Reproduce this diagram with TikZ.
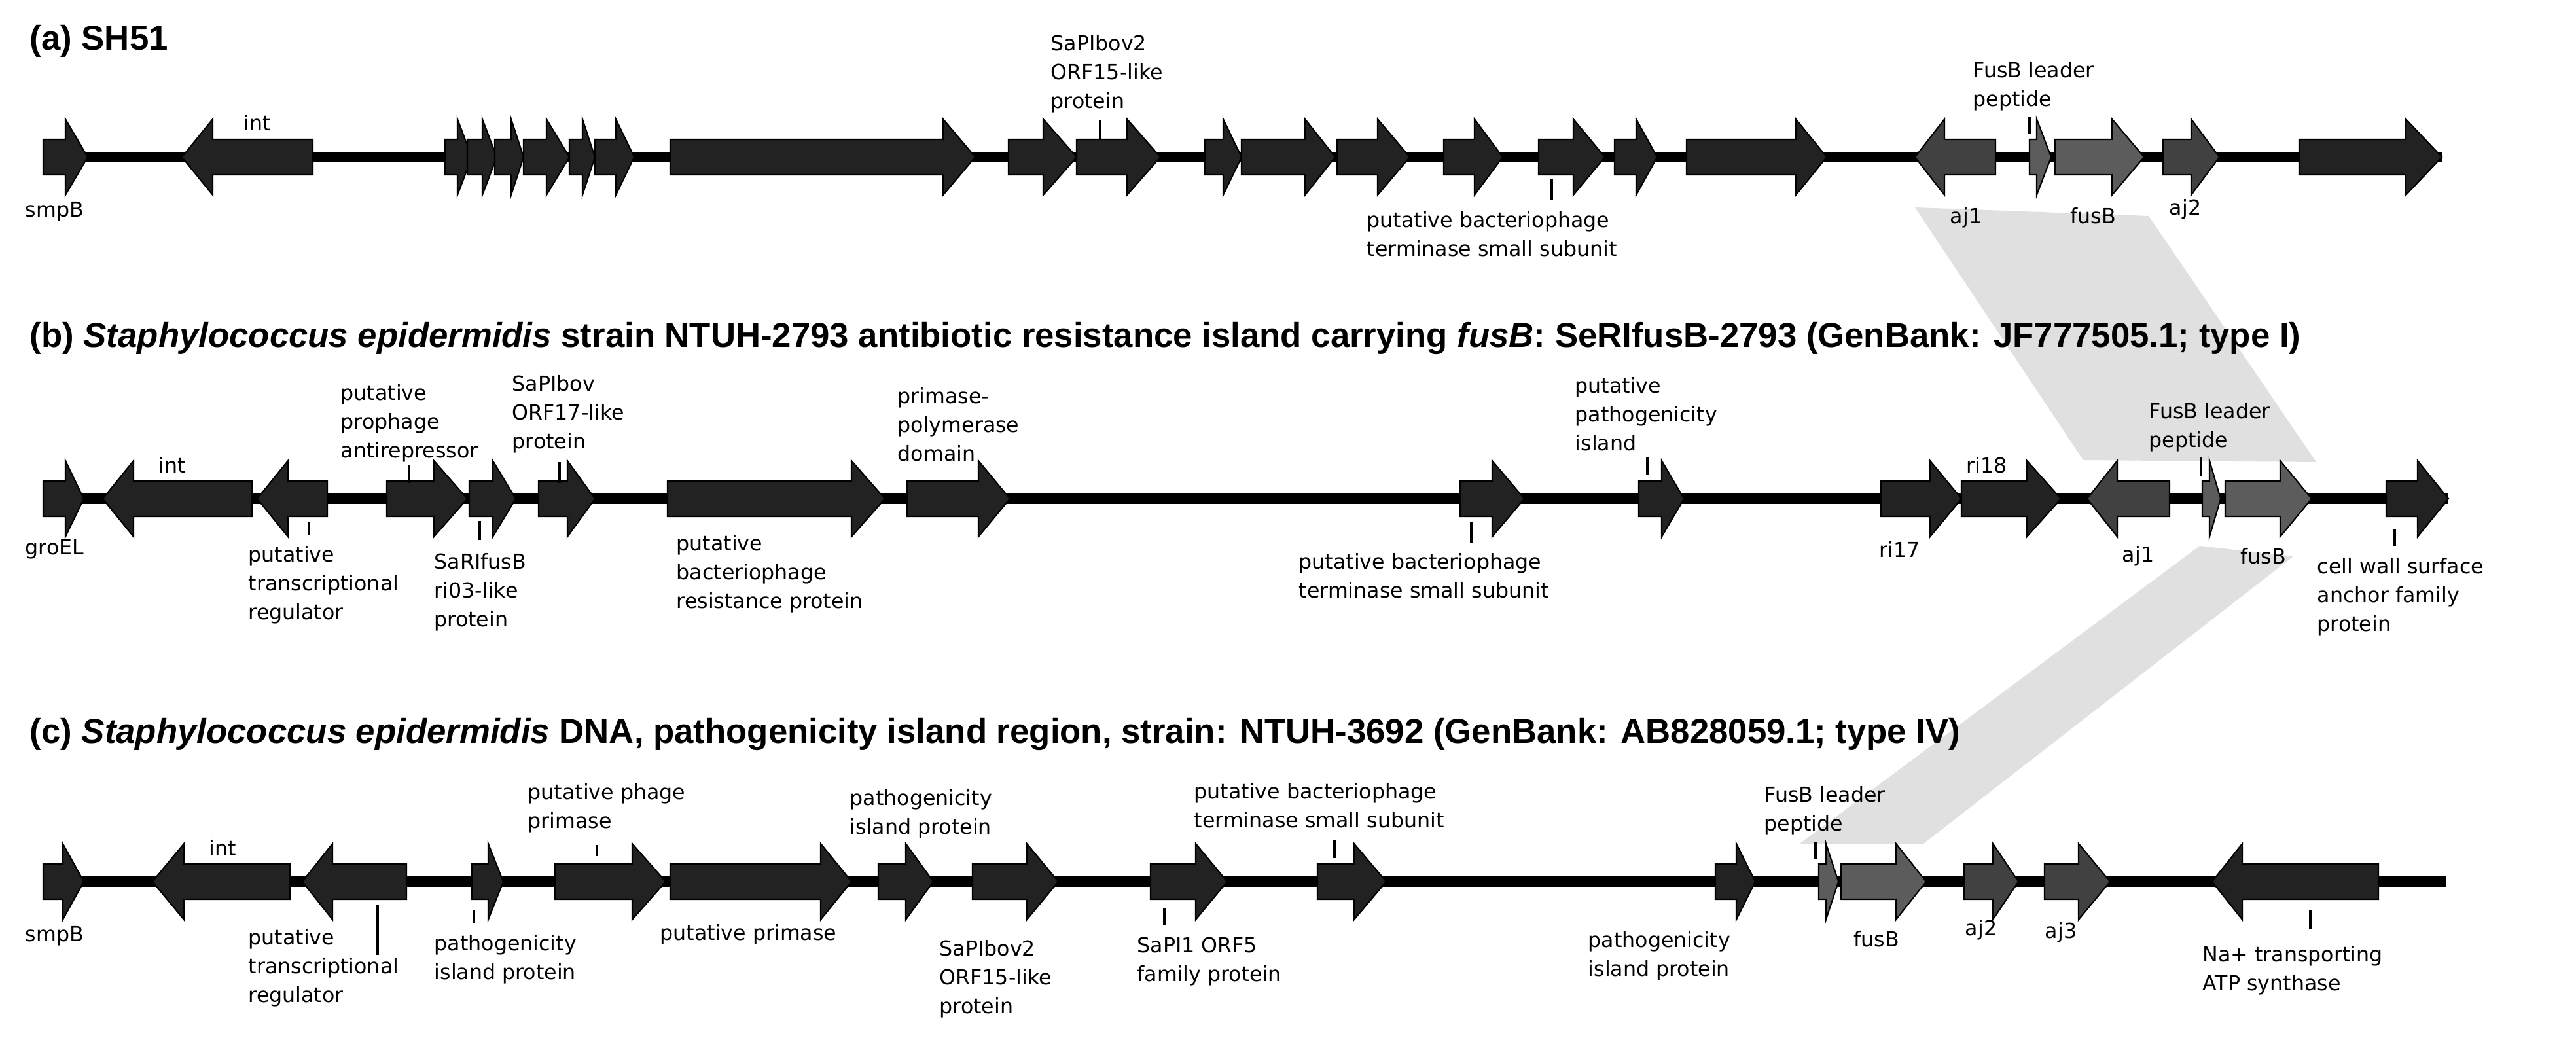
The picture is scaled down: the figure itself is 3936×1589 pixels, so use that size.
\documentclass[tikz,border=0pt]{standalone}
\usepackage{fontspec}
\setmainfont{Liberation Sans}
\newfontfamily\lblfont{DejaVu Sans}
\definecolor{gd}{HTML}{222222}
\definecolor{gm}{HTML}{414141}
\definecolor{gf}{HTML}{5C5C5C}
\definecolor{band}{HTML}{E0E0E0}
\tikzset{
  lbl/.style={font=\lblfont\fontsize{9}{12.5}\selectfont, inner sep=0pt, align=left},
  ttl/.style={font=\fontsize{15}{18}\selectfont\bfseries, anchor=west, inner sep=0pt},
  backbone/.style={line width=4.6pt, black},
  tick/.style={line width=1pt, black},
  gene/.style={draw=black, line width=0.6pt, line join=miter}
}
\newcommand{\geneR}[5]{\fill[gene, fill=#5] (#1,#4-27) -- (#2,#4-27) -- (#2,#4-58) -- (#3,#4) -- (#2,#4+58) -- (#2,#4+27) -- (#1,#4+27) -- cycle;}
\newcommand{\geneL}[5]{\fill[gene, fill=#5] (#1,#4) -- (#2,#4-58) -- (#2,#4-27) -- (#3,#4-27) -- (#3,#4+27) -- (#2,#4+27) -- (#2,#4+58) -- cycle;}
\begin{document}
\begin{tikzpicture}[x=0.01cm, y=-0.01cm]
\useasboundingbox (0,0) rectangle (3936,1589);
% bands
\fill[band] (2926,317) -- (3283,330) -- (3539,706) -- (3183,703) -- cycle;
\fill[band] (3361,834) -- (3504,850) -- (2939,1289) -- (2750,1289) -- cycle;
% titles
\node[ttl] (ta) at (45,63) {(a) SH51};
\node[ttl] (tb) at (45,517) {(b) \textit{Staphylococcus epidermidis} strain NTUH-2793 antibiotic resistance island carrying \textit{fusB}: SeRIfusB-2793 (GenBank: JF777505.1; type I)};
\node[ttl] (tc) at (45,1122) {(c) \textit{Staphylococcus epidermidis} DNA, pathogenicity island region, strain: NTUH-3692 (GenBank: AB828059.1; type IV)};
% ===== row a =====
\draw[backbone] (66,240) -- (3731,240);
\geneR{66}{100}{134}{240}{gd}
\geneL{278}{325}{478}{240}{gd}
\geneR{680}{699}{721}{240}{gd}
\geneR{714}{737}{759}{240}{gd}
\geneR{756}{781}{800}{240}{gd}
\geneR{800}{835}{870}{240}{gd}
\geneR{870}{890}{909}{240}{gd}
\geneR{909}{941}{969}{240}{gd}
\geneR{1024}{1441}{1490}{240}{gd}
\geneR{1541}{1594}{1645}{240}{gd}
\geneR{1645}{1722}{1773}{240}{gd}
\geneR{1841}{1869}{1897}{240}{gd}
\geneR{1897}{1994}{2040}{240}{gd}
\geneR{2043}{2105}{2154}{240}{gd}
\geneR{2206}{2253}{2296}{240}{gd}
\geneR{2351}{2404}{2452}{240}{gd}
\geneR{2467}{2500}{2532}{240}{gd}
\geneR{2577}{2744}{2791}{240}{gd}
\geneL{2926}{2971}{3049}{240}{gm}
\geneR{3101}{3112}{3134}{240}{gf}
\geneR{3140}{3227}{3276}{240}{gf}
\geneR{3305}{3348}{3391}{240}{gm}
\geneR{3513}{3676}{3731}{240}{gd}
\node[lbl, anchor=west] (a1) at (38,323) {smpB};
\node[lbl, anchor=west] (a2) at (372,187) {int};
\node[lbl, anchor=north west] (a3) at (1605,53) {SaPIbov2\\ORF15-like\\protein};
\draw[tick] (1681,183) -- (1681,212);
\node[lbl, anchor=north west] (a4) at (2088,323) {putative bacteriophage\\terminase small subunit};
\draw[tick] (2371,273) -- (2371,305);
\node[lbl, anchor=north west] (a5) at (3014,94) {FusB leader\\peptide};
\draw[tick] (3101,178) -- (3101,205);
\node[lbl] (a6) at (3004,333) {aj1};
\node[lbl] (a7) at (3198,330) {fusB};
\node[lbl] (a8) at (3339,320) {aj2};
% ===== row b =====
\draw[backbone] (66,762) -- (3741,762);
\geneR{66}{100}{128}{762}{gd}
\geneL{157}{204}{385}{762}{gd}
\geneL{393}{440}{500}{762}{gd}
\geneR{591}{663}{714}{762}{gd}
\geneR{717}{753}{788}{762}{gd}
\geneR{823}{867}{909}{762}{gd}
\geneR{1020}{1301}{1352}{762}{gd}
\geneR{1386}{1495}{1543}{762}{gd}
\geneR{2231}{2280}{2329}{762}{gd}
\geneR{2504}{2539}{2573}{762}{gd}
\geneR{2874}{2949}{2997}{762}{gd}
\geneR{2997}{3097}{3149}{762}{gd}
\geneL{3189}{3235}{3315}{762}{gm}
\geneR{3365}{3376}{3393}{762}{gf}
\geneR{3400}{3484}{3532}{762}{gf}
\geneR{3646}{3694}{3741}{762}{gd}
\node[lbl, anchor=west] (b1) at (38,839) {groEL};
\node[lbl, anchor=west] (b2) at (242,710) {int};
\node[lbl, anchor=north west] (b3) at (379,834) {putative\\transcriptional\\regulator};
\draw[tick] (472,797) -- (472,818);
\node[lbl, anchor=north west] (b4) at (520,587) {putative\\prophage\\antirepressor};
\draw[tick] (625,710) -- (625,738);
\node[lbl, anchor=north west] (b5) at (663,845) {SaRIfusB\\ri03-like\\protein};
\draw[tick] (733,796) -- (733,825);
\node[lbl, anchor=north west] (b6) at (782,573) {SaPIbov\\ORF17-like\\protein};
\draw[tick] (855,706) -- (855,738);
\node[lbl, anchor=north west] (b7) at (1371,592) {primase-\\polymerase\\domain};
\node[lbl, anchor=north west] (b8) at (1033,817) {putative\\bacteriophage\\resistance protein};
\node[lbl, anchor=north west] (b9) at (1984,845) {putative bacteriophage\\terminase small subunit};
\draw[tick] (2248,797) -- (2248,829);
\node[lbl, anchor=north west] (b10) at (2406,576) {putative\\pathogenicity\\island};
\draw[tick] (2517,699) -- (2517,725);
\node[lbl, anchor=west] (b11) at (2871,839) {ri17};
\node[lbl, anchor=west] (b12) at (3004,711) {ri18};
\node[lbl, anchor=north west] (b13) at (3283,615) {FusB leader\\peptide};
\draw[tick] (3363,699) -- (3363,727);
\node[lbl] (b14) at (3267,850) {aj1};
\node[lbl] (b15) at (3458,850) {fusB};
\node[lbl, anchor=north west] (b16) at (3540,852) {cell wall surface\\anchor family\\protein};
\draw[tick] (3659,808) -- (3659,834);
% ===== row c =====
\draw[backbone] (66,1347) -- (3737,1347);
\geneR{66}{96}{128}{1347}{gd}
\geneL{233}{281}{443}{1347}{gd}
\geneL{462}{508}{621}{1347}{gd}
\geneR{721}{746}{769}{1347}{gd}
\geneR{848}{966}{1017}{1347}{gd}
\geneR{1024}{1254}{1301}{1347}{gd}
\geneR{1342}{1384}{1426}{1347}{gd}
\geneR{1486}{1569}{1617}{1347}{gd}
\geneR{1758}{1827}{1875}{1347}{gd}
\geneR{2013}{2069}{2118}{1347}{gd}
\geneR{2621}{2653}{2682}{1347}{gd}
\geneR{2779}{2790}{2809}{1347}{gf}
\geneR{2813}{2897}{2943}{1347}{gf}
\geneR{3001}{3045}{3084}{1347}{gm}
\geneR{3124}{3176}{3224}{1347}{gm}
\geneL{3380}{3426}{3634}{1347}{gd}
\node[lbl, anchor=west] (c1) at (38,1430) {smpB};
\node[lbl, anchor=west] (c2) at (319,1295) {int};
\node[lbl, anchor=north west] (c3) at (379,1419) {putative\\transcriptional\\regulator};
\draw[tick] (577,1383) -- (577,1459);
\node[lbl, anchor=north west] (c4) at (663,1428) {pathogenicity\\island protein};
\draw[tick] (724,1390) -- (724,1411);
\node[lbl, anchor=north west] (c5) at (806,1197) {putative phage\\primase};
\draw[tick] (912,1291) -- (912,1308);
\node[lbl, anchor=west] (c6) at (1008,1428) {putative primase};
\node[lbl, anchor=north west] (c7) at (1298,1206) {pathogenicity\\island protein};
\node[lbl, anchor=north west] (c8) at (1435,1436) {SaPIbov2\\ORF15-like\\protein};
\node[lbl, anchor=north west] (c9) at (1737,1431) {SaPI1 ORF5\\family protein};
\draw[tick] (1779,1387) -- (1779,1414);
\node[lbl, anchor=north west] (c10) at (1824,1196) {putative bacteriophage\\terminase small subunit};
\draw[tick] (2039,1284) -- (2039,1311);
\node[lbl, anchor=north west] (c11) at (2426,1423) {pathogenicity\\island protein};
\node[lbl, anchor=north west] (c12) at (2695,1201) {FusB leader\\peptide};
\draw[tick] (2774,1287) -- (2774,1313);
\node[lbl] (c13) at (2867,1435) {fusB};
\node[lbl] (c14) at (3027,1421) {aj2};
\node[lbl] (c15) at (3149,1425) {aj3};
\node[lbl, anchor=north west] (c16) at (3365,1445) {Na+ transporting\\ATP synthase};
\draw[tick] (3530,1390) -- (3530,1419);
\end{tikzpicture}
\end{document}
